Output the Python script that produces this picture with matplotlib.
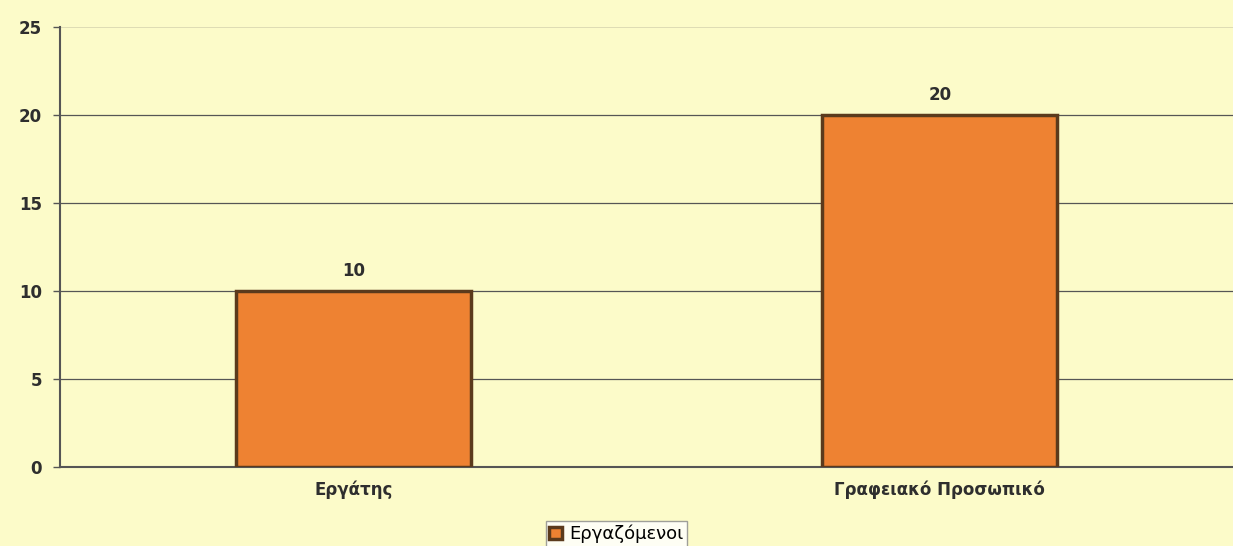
import numpy as np
import matplotlib.pyplot as plt

# δεδομένα
categories = ['Εργάτης', 'Γραφειακό Προσωπικό']
values = [10, 20]
series_name = 'Εργαζόμενοι'
yticks = [0, 5, 10, 15, 20, 25]

bg = '#fcfbc9'
bar_color = '#ee8232'
edge_color = '#5b3a1c'
txt_color = '#2e2e2e'

plt.rcParams['font.family'] = ['DejaVu Sans']

fig = plt.figure(figsize=(12.33, 5.46), dpi=100, facecolor=bg)
ax = fig.add_axes([0.0487, 0.1447, 0.9513, 0.8058], facecolor=bg)

x = np.arange(len(categories))
bars = ax.bar(x, values, width=0.4, color=bar_color, edgecolor=edge_color,
              linewidth=2.5, label=series_name, zorder=3)

# τιμές πάνω από τις μπάρες
for b, v in zip(bars, values):
    ax.text(b.get_x() + b.get_width() / 2, v + 0.6, str(v), ha='center', va='bottom',
            fontsize=12, fontweight='bold', color=txt_color)

ax.set_xlim(-0.5, 1.5)
ax.set_ylim(0, 25)
ax.set_yticks(yticks)
ax.set_yticklabels([str(t) for t in yticks], fontsize=12, fontweight='bold', color=txt_color)
ax.set_xticks(x)
ax.set_xticklabels(categories, fontsize=12, fontweight='bold', color=txt_color)
ax.tick_params(axis='x', length=0, pad=10)
ax.tick_params(axis='y', length=5, width=1, color='#555555', pad=8)

for t in yticks[1:-1]:
    ax.axhline(t, color='#555555', linewidth=0.9, zorder=1)
ax.axhline(25, color='#d8d6b0', linewidth=1.2, zorder=1)

for s in ['top', 'right']:
    ax.spines[s].set_visible(False)
ax.spines['left'].set_color('#555555')
ax.spines['left'].set_linewidth(1.5)
ax.spines['bottom'].set_color('#555555')
ax.spines['bottom'].set_linewidth(1.5)

leg = fig.legend(handles=[bars], labels=[series_name], loc='center',
                 bbox_to_anchor=(0.5, 0.022), frameon=True, fancybox=False,
                 fontsize=13, handlelength=0.7, handleheight=0.7, handletextpad=0.4,
                 borderpad=0.2, borderaxespad=0)
leg.get_frame().set_edgecolor('#888888')
leg.get_frame().set_facecolor('white')
leg.get_frame().set_linewidth(1)

fig.savefig('out.png', dpi=100, facecolor=bg)
